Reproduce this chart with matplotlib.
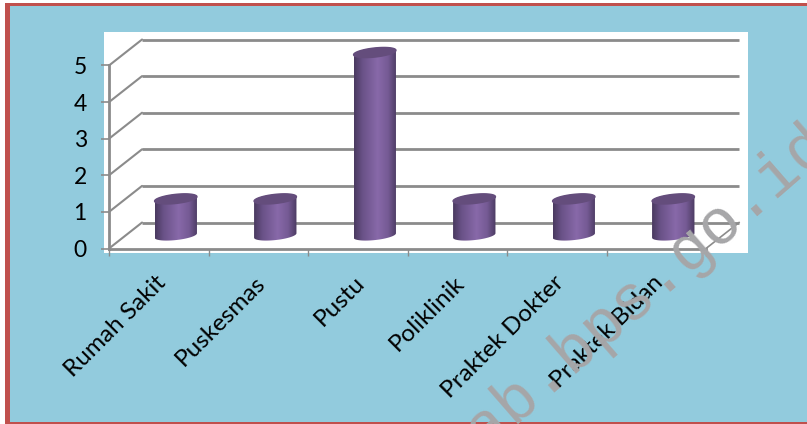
import numpy as np
import matplotlib
matplotlib.use("Agg")
import matplotlib.pyplot as plt
from matplotlib.colors import LinearSegmentedColormap
from matplotlib.patches import Polygon, Rectangle
from matplotlib.transforms import ScaledTranslation

categories = ["Rumah Sakit", "Puskesmas", "Pustu", "Poliklinik", "Praktek Dokter", "Praktek Bidan"]
values = [1, 1, 5, 1, 1, 1]
y_ticks = [0, 1, 2, 3, 4, 5]
watermark = "ab.bps.go.id"

W, H = 807, 424
GREY = "#8b8b8b"
# depth of the fake 3d box, in data units
DX, DY = 0.332, 0.71

cyl_cmap = LinearSegmentedColormap.from_list(
    "cyl", [(0, "#4a3a60"), (0.2, "#6a5288"), (0.55, "#8869a9"), (0.8, "#755a94"), (1, "#4b3b62")]
)


def px_rect(x0, y0, x1, y1, color):
    # rectangle given in image pixels, y going down
    fig.patches.append(Rectangle((x0 / W, 1 - y1 / H), (x1 - x0) / W, (y1 - y0) / H, transform=fig.transFigure,
                                 facecolor=color, edgecolor="none", zorder=-1))


def ellipse(cx, cy, t):
    a, b, tilt = 0.213, 0.125, 0.06
    return cx + a * np.cos(t), cy + b * np.sin(t) + tilt * np.cos(t)


fig = plt.figure(figsize=(W / 100, H / 100), dpi=100, facecolor="white")
px_rect(5, 3, W, H, "#c0504d")
px_rect(10, 6, W, 422, "#92cbdd")
px_rect(104, 32, 748, 253, "white")

ax = fig.add_axes([109 / W, 1 - 248.5 / H, 597 / W, 183 / H])
ax.patch.set_visible(False)

# back wall and side wall lines
for v in y_ticks:
    ax.plot([0, DX], [v, v + DY], color=GREY, lw=1.5, clip_on=False, solid_capstyle="round")
    ax.plot([DX, 6 + DX], [v + DY, v + DY], color=GREY, lw=2.0, clip_on=False, solid_capstyle="butt")
ax.plot([6, 6 + DX], [0, DY], color=GREY, lw=1.2, clip_on=False)

# cylinders
t = np.linspace(0, 2 * np.pi, 80)
t_low = np.linspace(np.pi, 2 * np.pi, 40)
t_up = np.linspace(0, np.pi, 40)
grad = np.linspace(0, 1, 120).reshape(1, -1)
for i, v in enumerate(values):
    cx = i + 0.505 + DX / 2
    base = 0.355
    xl, yl = ellipse(cx, base, t_low)
    xu, yu = ellipse(cx, base + v, t_up)
    body = Polygon(np.column_stack([np.r_[xl, xu], np.r_[yl, yu]]), closed=True, transform=ax.transData,
                   facecolor="none", edgecolor="none", clip_on=False)
    ax.add_patch(body)
    im = ax.imshow(grad, cmap=cyl_cmap, extent=[cx - 0.213, cx + 0.213, base - 0.3, base + v + 0.3],
                   aspect="auto", zorder=3)
    im.set_clip_box(fig.bbox)
    im.set_clip_path(body)
    xt, yt = ellipse(cx, base + v, t)
    ax.fill(xt, yt, color="#644d7c", zorder=4, clip_on=False)

ax.set_xlim(0, 6)
ax.set_ylim(0, 5)

for s in ["top", "right"]:
    ax.spines[s].set_visible(False)
for s in ["left", "bottom"]:
    ax.spines[s].set_color(GREY)
    ax.spines[s].set_linewidth(2.0)

ax.set_yticks(y_ticks)
ax.tick_params(axis="y", length=6, width=1.2, color=GREY, labelsize=16.5, pad=10)
ax.set_xticks(range(7))
ax.set_xticklabels([])
ax.tick_params(axis="x", which="major", length=5, width=1.0, color=GREY)
ax.set_xticks(np.arange(6) + 0.5, minor=True)
ax.set_xticklabels(categories, minor=True, rotation=45, ha="right", rotation_mode="anchor", fontsize=17.5)
ax.tick_params(axis="x", which="minor", length=0, pad=17)
shift = ScaledTranslation(-3 / 72, 0, fig.dpi_scale_trans)
for lab in ax.get_xticklabels(minor=True):
    lab.set_family("Lato")
    lab.set_transform(lab.get_transform() + shift)
for lab in ax.get_yticklabels():
    lab.set_family("Lato")

fig.text(484 / W, 1 - 450 / H, watermark, family="Liberation Mono", fontsize=46, color="#a6a6a8",
         rotation=41, rotation_mode="anchor", ha="left", va="baseline", zorder=5)

fig.savefig("out.png", dpi=100)
